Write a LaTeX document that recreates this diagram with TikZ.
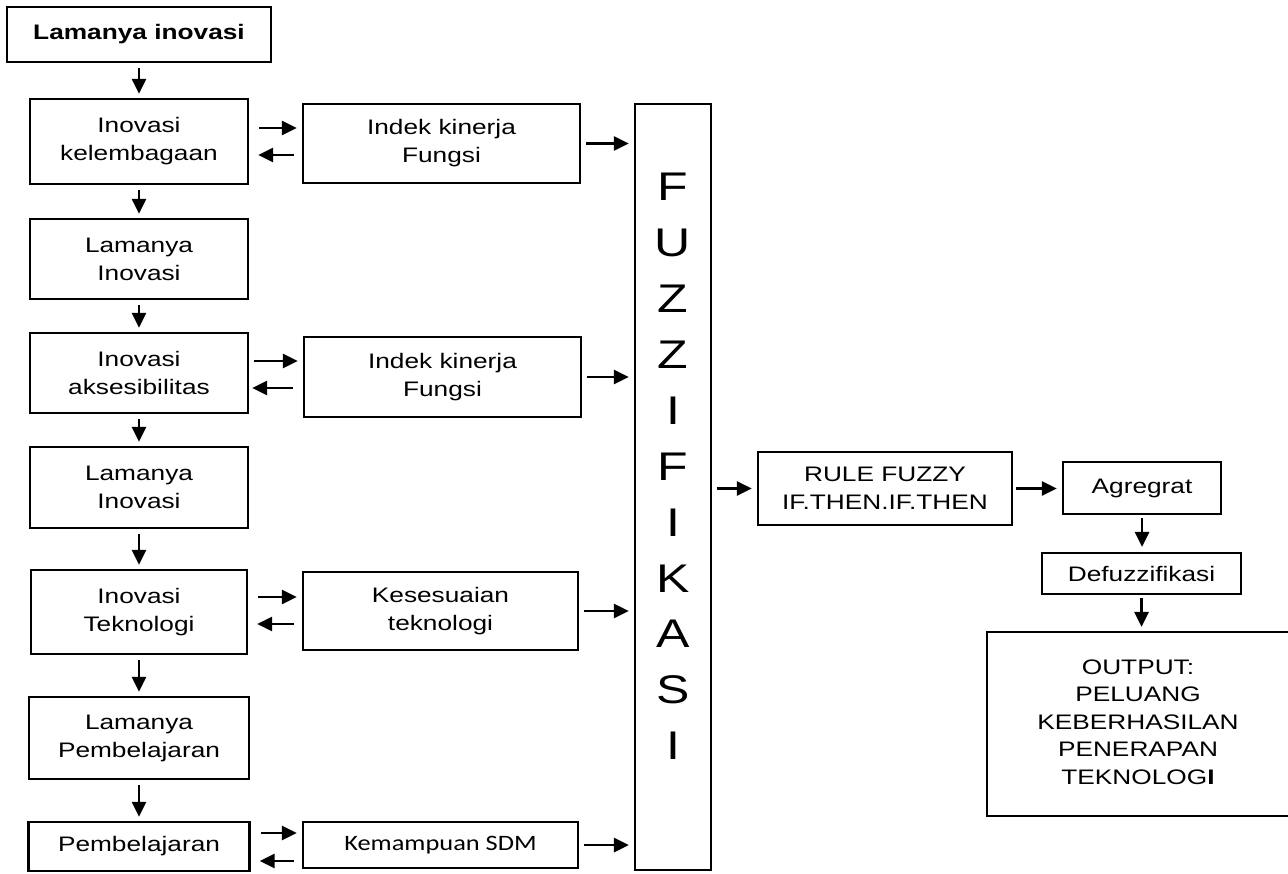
\documentclass[tikz,border=0pt]{standalone}
\usepackage{fontspec}
\setmainfont[FakeStretch=1.25]{Liberation Sans}
\newfontfamily\sdmfont[FakeStretch=1.2]{Carlito}
\usetikzlibrary{arrows.meta}

\tikzset{every picture/.style={line width=2.2pt}}
\tikzset{
  kotak/.style={draw, rectangle, inner sep=0pt, align=center, font=\fontsize{21}{28}\selectfont},
  panah/.style={line width=2.8pt, -{Triangle[length=15pt,width=14pt]}},
}

\begin{document}
\begin{tikzpicture}[x=1pt,y=1pt,yscale=-1]
\useasboundingbox (0,0) rectangle (1288,873);

%Shape: Rectangle [lamanya inovasi]
\node[kotak, minimum width=264, minimum height=55, font=\bfseries\fontsize{21}{28}\selectfont] (lama0) at (139,34.5) {Lamanya inovasi};
%Shape: Rectangle [kelembagaan]
\node[kotak, minimum width=218, minimum height=85] (ikel) at (139,141.5) {Inovasi\\kelembagaan};
\node[kotak, minimum width=277, minimum height=79] (ikf1) at (441.5,143.5) {Indek kinerja\\Fungsi};
%Shape: Rectangle [lamanya 1]
\node[kotak, minimum width=218, minimum height=80] (lama1) at (139,259) {Lamanya\\Inovasi};
%Shape: Rectangle [aksesibilitas]
\node[kotak, minimum width=218, minimum height=80] (iaks) at (139,373) {Inovasi\\aksesibilitas};
\node[kotak, minimum width=277, minimum height=80] (ikf2) at (442.5,377) {Indek kinerja\\Fungsi};
%Shape: Rectangle [lamanya 2]
\node[kotak, minimum width=218, minimum height=81] (lama2) at (139,487.5) {Lamanya\\Inovasi};
%Shape: Rectangle [teknologi]
\node[kotak, minimum width=216, minimum height=84] (itek) at (139,612) {Inovasi\\Teknologi};
\node[kotak, minimum width=275, minimum height=78] (kstek) at (440.5,611) {Kesesuaian\\teknologi};
%Shape: Rectangle [lamanya pembelajaran]
\node[kotak, minimum width=220, minimum height=82] (lamp) at (139,738) {Lamanya\\Pembelajaran};
%Shape: Rectangle [pembelajaran]
\node[kotak, minimum width=221, minimum height=49] (pemb) at (139,846.5) {Pembelajaran};
\node[kotak, minimum width=275, minimum height=46, font=\sdmfont\fontsize{22}{26}\selectfont] (sdm) at (440.5,845) {Kemampuan SDM};

%Shape: Rectangle [fuzzifikasi]
\node[kotak, minimum width=76, minimum height=766] (fuzz) at (673,487) {};
% Text Node
\node[align=center, inner sep=0pt, font=\fontsize{40}{55.9}\selectfont] (fuzztxt) at (673,466.5) {F\\U\\Z\\Z\\I\\F\\I\\K\\A\\S\\I};

%Shape: Rectangle [rule, agregrat, defuzzifikasi, output]
\node[kotak, minimum width=254, minimum height=73] (rule) at (885,488.5) {RULE FUZZY\\IF.THEN.IF.THEN};
\node[kotak, minimum width=158, minimum height=52] (agr) at (1142,488) {Agregrat};
\node[kotak, minimum width=199, minimum height=41] (defz) at (1141.5,573.5) {Defuzzifikasi};
\node[kotak, minimum width=302, minimum height=184] (outp) at (1138,724) {};
% Text Node
\node[align=center, inner sep=0pt, font=\fontsize{21}{27.5}\selectfont] (outtxt) at (1138,722) {OUTPUT:\\PELUANG\\KEBERHASILAN\\PENERAPAN\\TEKNOLOG\textbf{I}};

%Straight Lines [down the left column]
\draw[panah, shorten <=5pt, shorten >=4pt] (lama0) -- (ikel);
\draw[panah, shorten <=5pt, shorten >=4pt] (ikel) -- (lama1);
\draw[panah, shorten <=5pt, shorten >=4pt] (lama1) -- (iaks);
\draw[panah, shorten <=5pt, shorten >=4pt] (iaks) -- (lama2);
\draw[panah, shorten <=5pt, shorten >=4pt] (lama2) -- (itek);
\draw[panah, shorten <=5pt, shorten >=4pt] (itek) -- (lamp);
\draw[panah, shorten <=5pt, shorten >=4pt] (lamp) -- (pemb);

%Straight Lines [to and back]
\draw[panah, shorten <=10pt, shorten >=5pt] ([yshift=-13.5pt]ikel.east) -- ([yshift=-13.5pt]ikel.east -| ikf1.west);
\draw[panah, shorten <=8pt, shorten >=9pt] ([yshift=13.5pt]ikel.east -| ikf1.west) -- ([yshift=13.5pt]ikel.east);
\draw[panah, shorten <=5pt, shorten >=5pt] ([yshift=-12pt]iaks.east) -- ([yshift=-12pt]iaks.east -| ikf2.west);
\draw[panah, shorten <=10pt, shorten >=3pt] ([yshift=15pt]iaks.east -| ikf2.west) -- ([yshift=15pt]iaks.east);
\draw[panah, shorten <=10pt, shorten >=5pt] ([yshift=-15pt]itek.east) -- ([yshift=-15pt]itek.east -| kstek.west);
\draw[panah, shorten <=8pt, shorten >=9pt] ([yshift=12pt]itek.east -| kstek.west) -- ([yshift=12pt]itek.east);
\draw[panah, shorten <=10pt, shorten >=5pt] ([yshift=-13.5pt]pemb.east) -- ([yshift=-13.5pt]pemb.east -| sdm.west);
\draw[panah, shorten <=8pt, shorten >=9pt] ([yshift=14.5pt]pemb.east -| sdm.west) -- ([yshift=14.5pt]pemb.east);

%Straight Lines [into fuzzifikasi]
\draw[panah, shorten <=5pt, shorten >=5pt] (ikf1.east) -- (ikf1.east -| fuzz.west);
\draw[panah, shorten <=5pt, shorten >=5pt] (ikf2.east) -- (ikf2.east -| fuzz.west);
\draw[panah, shorten <=5pt, shorten >=5pt] (kstek.east) -- (kstek.east -| fuzz.west);
\draw[panah, shorten <=5pt, shorten >=5pt] (sdm.east) -- (sdm.east -| fuzz.west);

%Straight Lines [right part]
\draw[panah, shorten <=5pt, shorten >=5pt] (rule.west -| fuzz.east) -- (rule.west);
\draw[panah, shorten <=3pt, shorten >=5pt] (rule.east) -- (rule.east -| agr.west);
\draw[panah, shorten <=3pt, shorten >=5pt] (agr.south) -- (agr.south |- defz.north);
\draw[panah, shorten <=3pt, shorten >=4pt] (defz.south) -- (defz.south |- outp.north);

\end{tikzpicture}
\end{document}
